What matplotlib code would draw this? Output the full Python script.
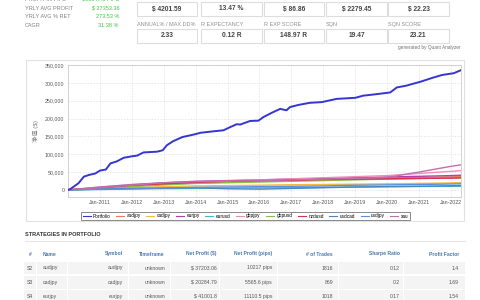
import pandas as pd
import matplotlib
matplotlib.use('Agg')
import matplotlib.pyplot as plt
import matplotlib.dates as mdates
from matplotlib.patches import Rectangle
from matplotlib.ticker import FuncFormatter

plt.rcParams['font.family'] = ['Liberation Sans', 'Noto Sans CJK SC', 'DejaVu Sans']

# ---- summary numbers
side_labels = ['PROFIT IN PIPS', 'YRLY AVG PROFIT', 'YRLY AVG % RET', 'CAGR']
side_values = ['103647.3 PIPS', '$ 27353.36', '273.53 %', '31.38 %']
box_row1 = ['$ 4201.59', '13.47 %', '$ 86.86', '$ 2279.45', '$ 22.23']
box_row2_labels = ['ANNUAL% / MAX DD%', 'R EXPECTANCY', 'R EXP SCORE', 'SQN', 'SQN SCORE']
box_row2 = ['2.33', '0.12 R', '148.97 R', '19.47', '23.21']

# ---- equity curves (in $)
port_dates = ['2010-01-04', '2010-02-01', '2010-05-01', '2010-07-01', '2010-09-01', '2010-11-10',
              '2011-01-01', '2011-03-10', '2011-05-01', '2011-07-15', '2011-10-01', '2012-01-01',
              '2012-03-01', '2012-05-15', '2012-10-15', '2012-12-20', '2013-02-05', '2013-04-15',
              '2013-08-01', '2013-12-10', '2014-02-25', '2014-07-20', '2014-11-15', '2015-02-01',
              '2015-04-15', '2015-05-25', '2015-09-15', '2015-12-20', '2016-02-15', '2016-05-20',
              '2016-08-25', '2016-11-05', '2016-12-15', '2017-03-20', '2017-07-30', '2017-12-15',
              '2018-06-01', '2019-01-01', '2019-04-01', '2019-07-20', '2020-02-05', '2020-04-20',
              '2020-08-05', '2021-01-15', '2021-06-15', '2021-09-20', '2022-02-01', '2022-04-20']
port_vals = [0, 3000, 18600, 37000, 42000, 46000,
             54000, 57000, 74000, 80000, 90000, 94000,
             96000, 105000, 107000, 111000, 125000, 136000,
             148000, 155000, 160000, 164000, 167000, 176000,
             184000, 183000, 193000, 194000, 204000, 216000,
             227000, 223000, 232000, 238000, 244000, 246000,
             255000, 258000, 264000, 267000, 273000, 287000,
             292000, 303000, 315000, 322000, 327000, 335000]

strat_dates = ['2010-01-04', '2011-01-01', '2012-01-01', '2013-01-01', '2014-01-01', '2015-01-01',
               '2016-01-01', '2017-01-01', '2018-01-01', '2019-01-01', '2020-01-01', '2021-01-01',
               '2022-01-01', '2022-04-20']
audjpy = [0, 5000, 11000, 16000, 19000, 22000, 24000, 26000, 29000, 31000, 33000, 35000, 36500, 37203]
cadjpy = [0, 3000, 6000, 9000, 11000, 12000, 13000, 14500, 15000, 16000, 17000, 18000, 19500, 20285]
eurjpy = [0, 8000, 15000, 20000, 24000, 26000, 28000, 30000, 32000, 34000, 36000, 38000, 40000, 41002]
eurusd = [0, 1000, 2500, 3500, 4000, 5000, 5500, 6000, 7000, 8000, 9000, 9500, 10000, 10500]
gbpjpy = [0, 7000, 14000, 18000, 22000, 25000, 28000, 31000, 34000, 37000, 40000, 46000, 52000, 54000]
gbpusd = [0, 4000, 9000, 14000, 18000, 20000, 22000, 24000, 26000, 28000, 30000, 32000, 33000, 34000]
nzdusd = [0, 6000, 13000, 17000, 21000, 24000, 26000, 27000, 29000, 30000, 31000, 32000, 33000, 33500]
usdcad = [0, 2000, 4000, 5000, 6000, 3000, 2000, 4000, 6000, 8000, 9000, 10000, 11500, 12000]
usdjpy = [0, 2000, 3000, 5000, 7000, 8000, 9000, 10000, 11000, 13000, 14000, 15000, 16500, 17000]
xau = [0, 6000, 13000, 20000, 23000, 24000, 26000, 28000, 30000, 32000, 35000, 50000, 66000, 70000]

strat_names = ['audjpy', 'cadjpy', 'eurjpy', 'eurusd', 'gbpjpy', 'gbpusd', 'nzdusd', 'usdcad', 'usdjpy', 'xau']
strat_vals = [audjpy, cadjpy, eurjpy, eurusd, gbpjpy, gbpusd, nzdusd, usdcad, usdjpy, xau]
strat_colors = ['#f07a5a', '#f5b840', '#b040b0', '#40b8d8', '#f08cb8', '#88c040',
                '#d83050', '#4a88b8', '#5a8ee0', '#c070b0']

# ---- strategies table
tbl_header = ['#', 'Name', 'Symbol', 'Timeframe', 'Net Profit ($)', 'Net Profit (pips)',
              '# of Trades', 'Sharpe Ratio', 'Profit Factor']
tbl_rows = [
    ['S2', 'audjpy', 'audjpy', 'unknown', '$ 37203.06', '10217 pips', '1816', '0.12', '1.4'],
    ['S3', 'cadjpy', 'cadjpy', 'unknown', '$ 20284.79', '5565.6 pips', '869', '0.2', '1.69'],
    ['S4', 'eurjpy', 'eurjpy', 'unknown', '$ 41001.8', '11110.5 pips', '1018', '0.17', '1.54'],
]

W, H = 480, 300
fig = plt.figure(figsize=(W / 100, H / 100), dpi=100)
bg = fig.add_axes([0, 0, 1, 1])
bg.set_xlim(0, W)
bg.set_ylim(H, 0)
bg.axis('off')

# left stats (top row is cut by the screenshot edge, as in the original)
for i, (lab, val) in enumerate(zip(side_labels, side_values)):
    y = -0.5 + i * 8.6
    bg.text(25, y, lab, fontsize=4, color='#808080', va='center')
    bg.text(119, y, val, fontsize=4, color='#3cc83c', ha='right', va='center')

# metric boxes
box_x = [(137, 197), (201, 262), (264, 324), (326, 387), (388, 449)]
for (x0, x1), v in zip(box_x, box_row1):
    bg.add_patch(Rectangle((x0, 1.5), x1 - x0, 14, fill=False, ec='#dddddd', lw=0.8))
    bg.text((x0 + x1) / 2, 9, v, fontsize=4.8, fontweight='bold', color='#444444', ha='center', va='center')
for (x0, x1), lab, v in zip(box_x, box_row2_labels, box_row2):
    bg.text(x0, 24.5, lab, fontsize=4, color='#909090', va='center')
    bg.add_patch(Rectangle((x0, 28.5), x1 - x0, 14, fill=False, ec='#dddddd', lw=0.8))
    bg.text((x0 + x1) / 2, 35.5, v, fontsize=4.8, fontweight='bold', color='#444444', ha='center', va='center')
bg.text(461, 48, 'generated by Quant Analyzer', fontsize=3.4, color='#707070', ha='right', va='center')

# chart frame
bg.add_patch(Rectangle((26, 60), 438, 161, fill=False, ec='#e2e2e2', lw=0.8))

# equity chart
ax = fig.add_axes([68 / W, 1 - 197 / H, (461 - 68) / W, (197 - 65) / H])
ax.plot(pd.to_datetime(port_dates), port_vals, color='#3535d0', lw=1.4, label='Portfolio', zorder=5)
for name, vals, c in zip(strat_names, strat_vals, strat_colors):
    ax.plot(pd.to_datetime(strat_dates), vals, color=c, lw=1.0, label=name)
ax.set_xlim(pd.Timestamp('2010-01-01'), pd.Timestamp('2022-04-25'))
ax.set_ylim(-20000, 350000)
ax.set_yticks(range(0, 350001, 50000))
ax.yaxis.set_major_formatter(FuncFormatter(lambda v, p: '{:,.0f}'.format(v)))
ax.set_xticks(pd.to_datetime(['%d-01-01' % y for y in range(2011, 2023)]))
ax.xaxis.set_major_formatter(mdates.DateFormatter('%b-%Y'))
ax.tick_params(length=0, labelsize=3.8, labelcolor='#555555', pad=2.5)
ax.grid(True, color='#dddddd', ls=(0, (2, 2)), lw=0.5)
for s in ax.spines.values():
    s.set_color('#cccccc')
    s.set_linewidth(0.6)
ax.set_ylabel('净值 ($)', fontsize=4.5, color='#808080', labelpad=4)

leg = fig.legend(loc='center', bbox_to_anchor=(245.5 / W, 1 - 216 / H), ncol=11, fontsize=3.4,
                 handlelength=1.7, columnspacing=1.15, handletextpad=0.5, borderpad=0.35,
                 frameon=True, fancybox=False, edgecolor='#555555')
leg.get_frame().set_linewidth(0.6)
for line in leg.get_lines():
    line.set_linewidth(0.8)

# strategies table
bg.text(25, 234, 'STRATEGIES IN PORTFOLIO', fontsize=4, fontweight='bold', color='#333333', va='center')
bg.plot([25, 465], [240.5, 240.5], color='#e6e6e6', lw=0.8)

col_pos = [30, 43, 123, 165, 217, 272, 333, 400, 459]
col_ha = ['center', 'left', 'right', 'right', 'right', 'right', 'right', 'right', 'right']
cell_x = [(24, 36), (37, 67), (68, 128), (129, 170), (171, 219), (220, 277), (278, 338), (339, 403), (404, 465)]
for x, ha, h in zip(col_pos, col_ha, tbl_header):
    bg.text(x, 254, h, fontsize=3.6, fontweight='bold', color='#4a78b0', ha=ha, va='center')
for r, row in enumerate(tbl_rows):
    yc = 268 + r * 14.2
    for (x0, x1) in cell_x:
        bg.add_patch(Rectangle((x0, yc - 6.3), x1 - x0, 12.6, fc='#f4f4f4', ec='none'))
    for x, ha, v in zip(col_pos, col_ha, row):
        bg.text(x, yc, v, fontsize=3.7, color='#555555', ha=ha, va='center')

fig.savefig('out.png', dpi=100, facecolor='white')
